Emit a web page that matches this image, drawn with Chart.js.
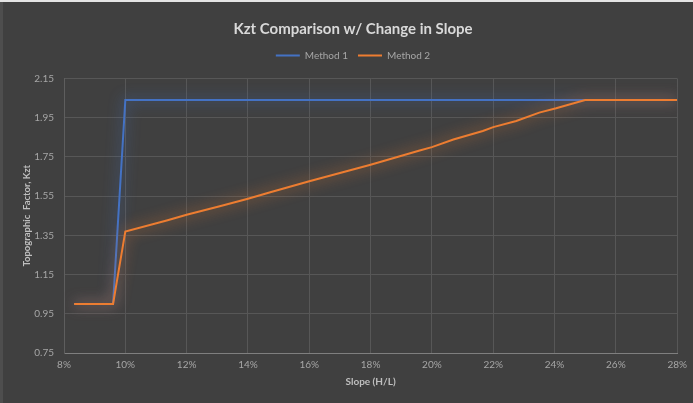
<!DOCTYPE html>
<html>
<head>
<meta charset="utf-8">
<script src="https://cdn.jsdelivr.net/npm/chart.js@4/dist/chart.umd.min.js"></script>
<style>
  html, body { margin: 0; padding: 0; background: #404040; }
  #wrap { width: 693px; height: 403px; position: relative; overflow: hidden; }
  #wrap .edgeTop { position: absolute; left: 0; top: 0; width: 693px; height: 2px; background: #e4e4e4; }
  #wrap .edgeLeft { position: absolute; left: 0; top: 2px; width: 3px; height: 401px; background: #4e4e4e; }
</style>
</head>
<body>
<div id="wrap">
  <canvas id="kzt" width="693" height="403"></canvas>
  <div class="edgeTop"></div>
  <div class="edgeLeft"></div>
</div>
<script>
// Slope values in percent (H/L) and topographic factor Kzt for each method
const slopeMethod1 = [8.33, 9.6, 10, 28];
const kztMethod1   = [1.00, 1.00, 2.04, 2.04];

const slopeMethod2 = [8.33, 9.6, 10, 11.35, 12, 13.08, 14, 14.7, 16, 18, 19.6, 20, 20.7, 21.66, 22, 22.75, 23.5, 24.05, 25, 28];
const kztMethod2   = [1.00, 1.00, 1.37, 1.426, 1.455, 1.498, 1.537, 1.569, 1.626, 1.71, 1.783, 1.80, 1.839, 1.882, 1.902, 1.933, 1.976, 1.998, 2.04, 2.04];

const xTicks = [8, 10, 12, 14, 16, 18, 20, 22, 24, 26, 28];
const yTicks = [0.75, 0.95, 1.15, 1.35, 1.55, 1.75, 1.95, 2.15];

const seriesNames = ['Method 1', 'Method 2'];
const BLUE = '#4472C4';
const ORANGE = '#ED7D31';
const FONT = 'Lato, "Open Sans", sans-serif';

const toPoints = (xs, ys) => xs.map((x, i) => ({ x, y: ys[i] }));

// soft outer glow around each line
const glowPlugin = {
  id: 'lineGlow',
  beforeDatasetDraw(chart, args) {
    const ds = chart.data.datasets[args.index];
    const ctx = chart.ctx;
    ctx.save();
    ctx.shadowColor = ds.glowColor;
    ctx.shadowBlur = 14;
    ctx.shadowOffsetX = 0;
    ctx.shadowOffsetY = 0;
  },
  afterDatasetDraw(chart) {
    chart.ctx.restore();
  }
};

// empty layout box that leaves a gap between the legend and the plot area
const legendGapPlugin = {
  id: 'legendGap',
  beforeInit(chart) {
    const gap = {
      position: 'top',
      weight: -10,
      fullSize: true,
      options: {},
      width: 0,
      height: 8,
      isHorizontal() { return true; },
      update(maxWidth) { this.width = maxWidth; this.height = 8; },
      draw() {}
    };
    Chart.layouts.addBox(chart, gap);
  }
};

new Chart(document.getElementById('kzt'), {
  type: 'scatter',
  data: {
    datasets: [
      {
        label: seriesNames[0],
        data: toPoints(slopeMethod1, kztMethod1),
        showLine: true,
        borderColor: BLUE,
        backgroundColor: BLUE,
        glowColor: 'rgba(68,114,196,1)',
        borderWidth: 2,
        pointRadius: 0,
        tension: 0,
        order: 1
      },
      {
        label: seriesNames[1],
        data: toPoints(slopeMethod2, kztMethod2),
        showLine: true,
        borderColor: ORANGE,
        backgroundColor: ORANGE,
        glowColor: 'rgba(237,125,49,1)',
        borderWidth: 2,
        pointRadius: 0,
        tension: 0,
        order: 0
      }
    ]
  },
  options: {
    responsive: false,
    animation: false,
    layout: { padding: { left: 28, right: 15, top: 0, bottom: 0 } },
    plugins: {
      tooltip: { enabled: false },
      title: {
        display: true,
        text: 'Kzt Comparison w/ Change in Slope',
        color: '#d9d9d9',
        font: { family: FONT, size: 15, weight: 'bold', lineHeight: 0.5 },
        padding: { top: 25, bottom: 8 }
      },
      legend: {
        display: true,
        position: 'top',
        labels: {
          color: '#a6a6a6',
          font: { family: FONT, size: 10 },
          boxWidth: 24,
          boxHeight: 2,
          padding: 10,
          sort: (a, b) => a.datasetIndex - b.datasetIndex,
          generateLabels(chart) {
            return chart.data.datasets.map((ds, i) => ({
              text: ds.label,
              fillStyle: ds.borderColor,
              strokeStyle: ds.borderColor,
              lineWidth: 0,
              hidden: false,
              datasetIndex: i,
              fontColor: '#a6a6a6'
            }));
          }
        }
      }
    },
    scales: {
      x: {
        type: 'linear',
        min: 8,
        max: 28,
        afterBuildTicks(scale) { scale.ticks = xTicks.map(v => ({ value: v })); },
        afterFit(scale) { scale.height = 50; },
        ticks: {
          color: '#a6a6a6',
          font: { family: FONT, size: 10 },
          padding: 6,
          callback: v => v + '%'
        },
        grid: { color: '#575757', lineWidth: 1, drawTicks: false },
        border: { color: '#7f7f7f', width: 1 },
        title: {
          display: true,
          text: 'Slope (H/L)',
          color: '#bfbfbf',
          font: { family: FONT, size: 10, weight: 'bold' },
          padding: { top: 0, bottom: 15 }
        }
      },
      y: {
        type: 'linear',
        min: 0.75,
        max: 2.15,
        afterBuildTicks(scale) { scale.ticks = yTicks.map(v => ({ value: v })); },
        afterFit(scale) { scale.width = 36; },
        ticks: {
          color: '#a6a6a6',
          font: { family: FONT, size: 10 },
          padding: 10,
          callback: v => Number(v).toFixed(2)
        },
        grid: { color: '#575757', lineWidth: 1, drawTicks: false },
        border: { color: '#5e5e5e', width: 1 },
        title: {
          display: true,
          text: 'Topographic  Factor, Kzt',
          color: '#bfbfbf',
          font: { family: FONT, size: 9.5, weight: 'bold' },
          padding: { top: -7, bottom: 0 }
        }
      }
    }
  },
  plugins: [glowPlugin, legendGapPlugin]
});
</script>
</body>
</html>
